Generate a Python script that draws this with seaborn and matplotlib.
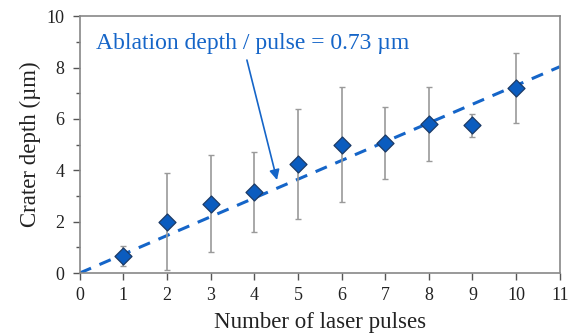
import matplotlib
matplotlib.use("Agg")
import matplotlib.pyplot as plt
import seaborn as sns
import numpy as np
import pandas as pd

pulses = [1, 2, 3, 4, 5, 6, 7, 8, 9, 10]
depth = [0.67, 2.0, 2.7, 3.15, 4.25, 5.0, 5.05, 5.8, 5.75, 7.2]
err = [0.38, 1.9, 1.9, 1.55, 2.15, 2.25, 1.4, 1.45, 0.45, 1.35]
fit_x = [0, 11]
slope = 0.73
x_ticks = list(range(0, 12))
y_ticks = [0, 2, 4, 6, 8, 10]

sns.set_theme(style="ticks")
plt.rcParams['font.family'] = ['Liberation Serif', 'DejaVu Serif']

fig = plt.figure(figsize=(5.7, 3.36), dpi=100)
ax = fig.add_axes([0.140, 0.1875, 0.842, 0.7645])

df = pd.DataFrame({"x": pulses, "y": depth})
fit_df = pd.DataFrame({"x": fit_x, "y": [slope * v for v in fit_x]})

sns.lineplot(data=fit_df, x="x", y="y", ax=ax, color="#1565C8", lw=2.2,
             linestyle=(0, (4, 3)), zorder=2)
ax.errorbar(pulses, depth, yerr=err, fmt="none", ecolor="#9a9a9a", elinewidth=1.2,
            capsize=2.5, capthick=1.0, zorder=3)
sns.scatterplot(data=df, x="x", y="y", ax=ax, marker="D", s=75, color="#0B5CBF",
                edgecolor="#1B3A66", linewidth=0.9, zorder=4)

ax.set_xlim(0, 11)
ax.set_ylim(0, 10)
ax.set_xticks(x_ticks)
ax.set_yticks(y_ticks)
ax.set_yticks([1, 3, 5, 7, 9], minor=True)
ax.tick_params(axis="both", which="major", direction="out", length=5, width=1,
               color="#555555", labelsize=13, labelcolor="#222222")
ax.tick_params(axis="x", which="major", pad=5)
ax.tick_params(axis="y", which="major", pad=6)
ax.tick_params(axis="y", which="minor", direction="out", length=3, width=1, color="#555555")
for s in ax.spines.values():
    s.set_color("#888888")
    s.set_linewidth(1.2)
ax.set_xlabel("Number of laser pulses", fontsize=16.5, color="#222222", labelpad=6)
ax.set_ylabel("Crater depth (µm)", fontsize=16.5, color="#222222", labelpad=4)

ax.text(0.38, 8.95, "Ablation depth / pulse = 0.73 µm", fontsize=17, color="#1565C8",
        va="center", ha="left")
ax.annotate("", xy=(4.52, 3.62), xytext=(3.83, 8.29),
            arrowprops=dict(arrowstyle="-|>", color="#1565C8", lw=1.2,
                            mutation_scale=15, shrinkA=0, shrinkB=0))
fig.savefig("out.png", dpi=100)
